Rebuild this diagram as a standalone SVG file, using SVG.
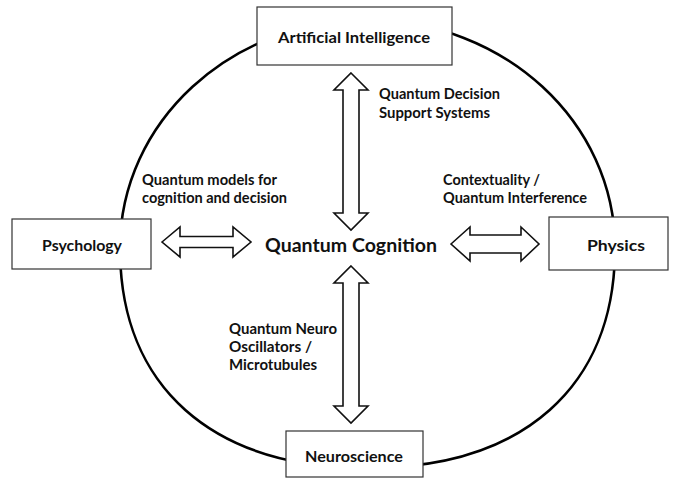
<svg xmlns="http://www.w3.org/2000/svg" width="678" height="480" viewBox="0 0 678 480">
<style>
.box{fill:#ffffff;stroke:#333333;stroke-width:1.2}
.ring{fill:none;stroke:#000000;stroke-width:2.6}
.arr{fill:#ffffff;stroke:#111111;stroke-width:1.6;stroke-linejoin:miter}
text{font-family:Lato,"Open Sans","Liberation Sans",sans-serif;font-weight:bold;fill:#111111}
.lbl{font-size:14.5px}
.node{font-size:15.5px;text-anchor:middle}
.main{font-size:18px;text-anchor:middle}
</style>
<rect x="0" y="0" width="678" height="480" fill="#ffffff"/>
<g id="ring">
<path class="ring" d="M120,248 C120,122.1 230.8,20 367.5,20 C504.2,20 615,122.1 615,248 C615,386.6 523.4,468 367.5,468 C211.6,468 120,386.6 120,248 Z"/>
</g>
<g id="connectors">
<polygon class="arr" points="351,73 368,90 359,90 359,213 368,213 351,230 334,213 343,213 343,90 334,90"/>
<polygon class="arr" points="351,266 368,283 359,283 359,406 368,406 351,423 334,406 343,406 343,283 334,283"/>
<polygon class="arr" points="162,242 180,227 180,236.5 233,236.5 233,227 251,242 233,257 233,247.5 180,247.5 180,257"/>
<polygon class="arr" points="451,244 470,227 470,235 521,235 521,227 539,244 521,261 521,253 470,253 470,261"/>
<text class="lbl" x="379" y="99" textLength="121" lengthAdjust="spacingAndGlyphs">Quantum Decision</text>
<text class="lbl" x="379" y="118" textLength="111" lengthAdjust="spacingAndGlyphs">Support Systems</text>
<text class="lbl" x="142" y="185" textLength="135" lengthAdjust="spacingAndGlyphs">Quantum models for</text>
<text class="lbl" x="142" y="203" textLength="145" lengthAdjust="spacingAndGlyphs">cognition and decision</text>
<text class="lbl" x="443" y="185" textLength="97" lengthAdjust="spacingAndGlyphs">Contextuality /</text>
<text class="lbl" x="443" y="203" textLength="144" lengthAdjust="spacingAndGlyphs">Quantum Interference</text>
<text class="lbl" x="229" y="334" textLength="108" lengthAdjust="spacingAndGlyphs">Quantum Neuro</text>
<text class="lbl" x="229" y="352" textLength="83" lengthAdjust="spacingAndGlyphs">Oscillators /</text>
<text class="lbl" x="229" y="370" textLength="88" lengthAdjust="spacingAndGlyphs">Microtubules</text>
</g>
<g id="ai">
<rect class="box" x="257" y="7" width="195" height="58"/>
<text class="node" x="354" y="43" textLength="152" lengthAdjust="spacingAndGlyphs">Artificial Intelligence</text>
</g>
<g id="psychology">
<rect class="box" x="12" y="219" width="139" height="50"/>
<text class="node" x="82" y="251" textLength="80" lengthAdjust="spacingAndGlyphs">Psychology</text>
</g>
<g id="physics">
<rect class="box" x="549" y="217" width="119" height="53"/>
<text class="node" x="616" y="251" textLength="58" lengthAdjust="spacingAndGlyphs">Physics</text>
</g>
<g id="neuroscience">
<rect class="box" x="286" y="431" width="137" height="46"/>
<text class="node" x="354" y="462" textLength="98" lengthAdjust="spacingAndGlyphs">Neuroscience</text>
</g>
<g id="quantum-cognition">
<text class="main" x="351" y="252" textLength="172" lengthAdjust="spacingAndGlyphs">Quantum Cognition</text>
</g>
</svg>
